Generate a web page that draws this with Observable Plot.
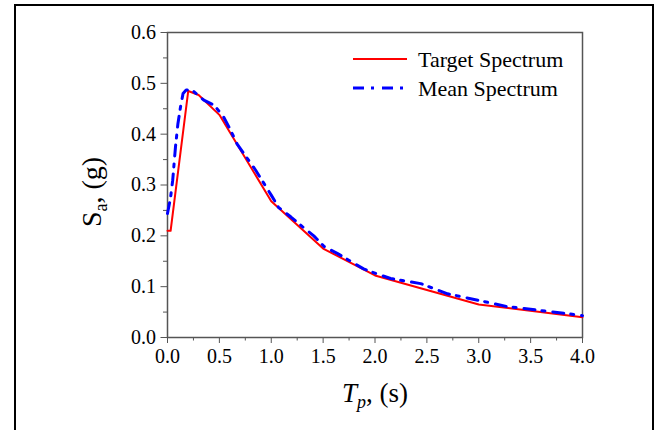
<!DOCTYPE html>
<html>
<head>
<meta charset="utf-8">
<script src="https://cdn.jsdelivr.net/npm/d3@7"></script>
<script src="https://cdn.jsdelivr.net/npm/@observablehq/plot@0.6"></script>
<style>
  html, body { margin: 0; padding: 0; background: #fff; }
  #wrap { position: relative; width: 657px; height: 430px; overflow: hidden; }
  #border { position: absolute; left: 14px; top: 4px; width: 640px; height: 460px;
            box-sizing: border-box; border: 2px solid #000; border-bottom: none; pointer-events: none; }
  #chart { position: absolute; left: 0; top: 0; }
  #chart svg, #chart svg text { font-family: "Liberation Serif", "Times New Roman", serif !important; }
  #chart svg g[aria-label$="tick label"] text { font-size: 20px !important; }
</style>
</head>
<body>
<div id="wrap"><div id="chart"></div><div id="border"></div></div>
<script>
// Target spectrum
const targetT  = [0, 0.03, 0.2, 0.3, 0.5, 1.0, 1.5, 2.0, 3.0, 4.0];
const targetSa = [0.21, 0.21, 0.485, 0.477, 0.438, 0.268, 0.175, 0.122, 0.065, 0.04];
// Mean spectrum
const meanT  = [0, 0.03, 0.05, 0.077, 0.1, 0.125, 0.15, 0.18, 0.24, 0.35, 0.45, 0.54, 0.61, 0.67, 0.85, 1.0, 1.07, 1.19, 1.3, 1.41, 1.51, 1.64, 1.89, 2.02, 2.15, 2.44, 2.7, 3.0, 3.27, 3.56, 3.85, 4.0];
const meanSa = [0.244, 0.276, 0.309, 0.375, 0.42, 0.453, 0.48, 0.487, 0.486, 0.467, 0.457, 0.434, 0.407, 0.381, 0.329, 0.28, 0.256, 0.237, 0.218, 0.2, 0.179, 0.165, 0.135, 0.125, 0.116, 0.106, 0.086, 0.073, 0.061, 0.054, 0.047, 0.043];
// Ticks
const xTicks = [0, 0.5, 1.0, 1.5, 2.0, 2.5, 3.0, 3.5, 4.0];
const xMinor = [0.25, 0.75, 1.25, 1.75, 2.25, 2.75, 3.25, 3.75];
const yTicks = [0, 0.1, 0.2, 0.3, 0.4, 0.5, 0.6];
const yMinor = [0.05, 0.15, 0.25, 0.35, 0.45, 0.55];
const seriesNames = ["Target Spectrum", "Mean Spectrum"];

const target = targetT.map((t, i) => ({T: t, Sa: targetSa[i]}));
const mean = meanT.map((t, i) => ({T: t, Sa: meanSa[i]}));

const serif = "Liberation Serif, Times New Roman, serif";
const axisColor = "#555";
const chart = Plot.plot({
  width: 657, height: 430,
  marginLeft: 167, marginRight: 75, marginTop: 32, marginBottom: 93,
  x: {domain: [0, 4]},
  y: {domain: [0, 0.6]},
  style: {fontFamily: serif, fontSize: "20px", color: "#000", background: "transparent"},
  marks: [
    Plot.axisX({ticks: xTicks, tickSize: 6, tickPadding: 5, fontSize: 20, tickFormat: d => d.toFixed(1), stroke: axisColor, fill: "#000", label: null}),
    Plot.axisX({ticks: xMinor, tickSize: 3.5, text: null, stroke: axisColor, label: null}),
    Plot.axisY({ticks: yTicks, tickSize: 6.5, tickPadding: 5, fontSize: 20, tickFormat: d => d.toFixed(1), stroke: axisColor, fill: "#000", label: null}),
    Plot.axisY({ticks: yMinor, tickSize: 4, text: null, stroke: axisColor, label: null}),
    Plot.frame({stroke: axisColor, strokeWidth: 1.5}),
    Plot.line(target, {x: "T", y: "Sa", stroke: "#ff0000", strokeWidth: 2}),
    Plot.line(mean, {x: "T", y: "Sa", stroke: "#0000ff", strokeWidth: 3, strokeDasharray: "11,7,3,8"})
  ]
});
document.getElementById("chart").appendChild(chart);

const svg = d3.select(chart);

// X axis title: T_p, (s)
const xt = svg.append("text")
  .attr("x", 375).attr("y", 402)
  .attr("text-anchor", "middle")
  .style("font-size", "27px").attr("fill", "#000");
xt.append("tspan").attr("font-style", "italic").text("T");
xt.append("tspan").attr("font-style", "italic").attr("font-size", "18px").attr("dy", 6).text("p");
xt.append("tspan").attr("dy", -6).text(", (s)");

// Y axis title: S_a, (g)
const yt = svg.append("text")
  .attr("transform", "translate(101,192) rotate(-90)")
  .attr("text-anchor", "middle")
  .style("font-size", "28px").attr("fill", "#000");
yt.append("tspan").text("S");
yt.append("tspan").attr("font-size", "18px").attr("dy", 6).text("a");
yt.append("tspan").attr("dy", -6).text(", (g)");

// Legend
const legend = svg.append("g").style("font-size", "22px");
const items = [
  {name: seriesNames[0], stroke: "#ff0000", width: 2, dash: null, y: 59},
  {name: seriesNames[1], stroke: "#0000ff", width: 3, dash: "11,7,3,8", y: 88}
];
items.forEach(it => {
  const l = legend.append("line").attr("x1", 353).attr("x2", 407).attr("y1", it.y).attr("y2", it.y)
    .attr("stroke", it.stroke).attr("stroke-width", it.width);
  if (it.dash) l.attr("stroke-dasharray", it.dash);
  legend.append("text").attr("x", 418).attr("y", it.y + 8).attr("text-anchor", "start").attr("fill", "#000").text(it.name);
});
</script>
</body>
</html>
